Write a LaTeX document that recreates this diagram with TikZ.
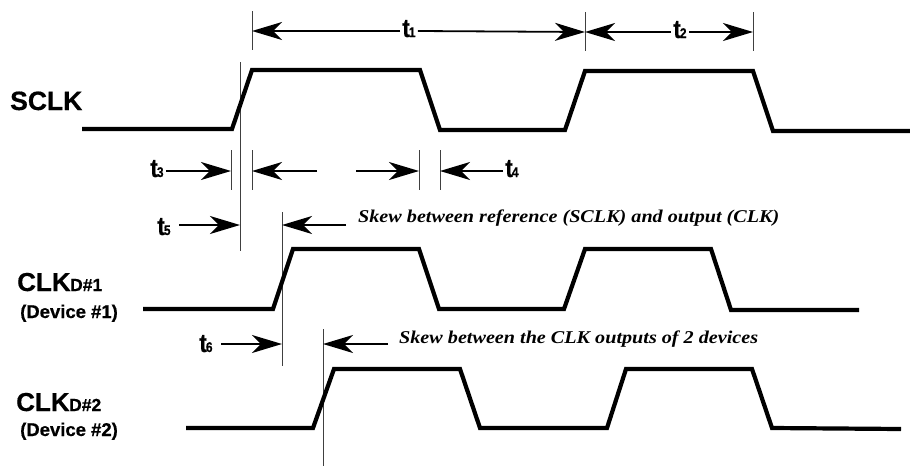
\documentclass[tikz,border=0pt]{standalone}
\usepackage{fontspec}
\usepackage{graphicx}
\setmainfont[BoldFeatures={FakeBold=0.6}]{Liberation Sans}
\newfontfamily\skewfont{Liberation Serif}
\usetikzlibrary{arrows.meta}
\newcommand{\tlab}[1]{\scalebox{0.85}[1]{{\fontsize{26}{26}\selectfont\bfseries t}\kern-1pt{\fontsize{14}{14}\selectfont\bfseries #1}}}
\newcommand{\clklab}[1]{{\fontsize{26}{26}\selectfont\bfseries CLK}\kern-0.5pt{\fontsize{17.5}{17.5}\selectfont\bfseries D\##1}}
\newcommand{\notetext}[1]{\scalebox{1.12}[1]{#1}}
\tikzset{
  x=1pt,y=-1pt,
  wave/.style={line width=4.2pt,line join=miter,miter limit=10},
  guide/.style={line width=0.6pt,black!75},
  dim/.style={line width=1.8pt,-{Stealth[length=30pt,width=18pt,inset=9pt]}},
  lbl/.style={anchor=base west,inner sep=0pt,font=\bfseries},
  tl/.style={anchor=base,inner xsep=2pt,inner ysep=0pt},
  note/.style={anchor=base west,inner sep=0pt,font=\skewfont\itshape\bfseries\fontsize{18}{18}\selectfont},
}
\begin{document}
\begin{tikzpicture}
\useasboundingbox (0,0) rectangle (910,466);
% guide lines
\foreach \n/\xx/\ya/\yb in {ga/252/11/50,gb/585/12/51,gc/753/12/51,gd/231/150/190,ge/252/150/190,gf/419/150/190,gg/440/150/190,gh/240/62/251,gi/282/212/366,gj/323/329/466}{
  \coordinate (\n t) at (\xx,\ya);
  \coordinate (\n b) at (\xx,\yb);
  \draw[guide] (\n t) -- (\n b);
}
% waveforms
\draw[wave] (82,129) -- (232,129) -- (252,70) -- (420,70) -- (440,130) -- (565,130) -- (585,71) -- (753,71) -- (773,131) -- (910,131);
\draw[wave] (143,309) -- (273,309) -- (293,249) -- (419,249) -- (439,309) -- (564,309) -- (585,249) -- (711,249) -- (731,310) -- (859,310);
\draw[wave] (186,428) -- (313,428) -- (334,369) -- (460,369) -- (480,428) -- (607,428) -- (626,369) -- (752,369) -- (772,428) -- (901,429);
% signal labels
\node[lbl] (sclk) at (10,110) {\fontsize{26.5}{26.5}\selectfont SCLK};
\node[lbl] (clk1) at (17,291) {\clklab{1}};
\node[lbl] (dev1) at (20,318) {\fontsize{18.5}{18.5}\selectfont (Device \#1)};
\node[lbl] (clk2) at (16,411) {\clklab{2}};
\node[lbl] (dev2) at (20,436) {\fontsize{18.5}{18.5}\selectfont (Device \#2)};
% timing labels
\node[tl] (t1) at (409,37) {\tlab{1}};
\node[tl] (t2) at (680,38) {\tlab{2}};
\node[tl] (t3) at (157,177) {\tlab{3}};
\node[tl] (t4) at (512,177) {\tlab{4}};
\node[tl] (t5) at (164,235) {\tlab{5}};
\node[tl] (t6) at (206,352) {\tlab{6}};
% arrow ends
\coordinate (a1) at (252,31); \coordinate (a2) at (585,32); \coordinate (a3) at (753,32);
\coordinate (b1) at (231,171); \coordinate (b2) at (252,171); \coordinate (b3) at (419,171); \coordinate (b4) at (440,171);
\coordinate (b2s) at (317,171); \coordinate (b3s) at (356,171);
\coordinate (c1s) at (179,225); \coordinate (c1) at (240,225); \coordinate (c2s) at (346,225); \coordinate (c2) at (282,225);
\coordinate (d1s) at (221,344); \coordinate (d1) at (282,344); \coordinate (d2s) at (388,344); \coordinate (d2) at (323,344);
\draw[dim] (t1.west |- a1) -- (a1);
\draw[dim] (t1.east |- a1) -- (a2);
\draw[dim] (t2.west |- a2) -- (a2);
\draw[dim] (t2.east |- a3) -- (a3);
\draw[dim] (t3.east |- b1) -- (b1);
\draw[dim] (b2s) -- (b2);
\draw[dim] (b3s) -- (b3);
\draw[dim] (t4.west |- b4) -- (b4);
\draw[dim] (c1s) -- (c1);
\draw[dim] (c2s) -- (c2);
\draw[dim] (d1s) -- (d1);
\draw[dim] (d2s) -- (d2);
% notes
\node[note] (n1) at (358,222) {\notetext{Skew between reference (SCLK) and output (CLK)}};
\node[note] (n2) at (399,343) {\notetext{Skew between the CLK outputs of 2 devices}};
\end{tikzpicture}
\end{document}
